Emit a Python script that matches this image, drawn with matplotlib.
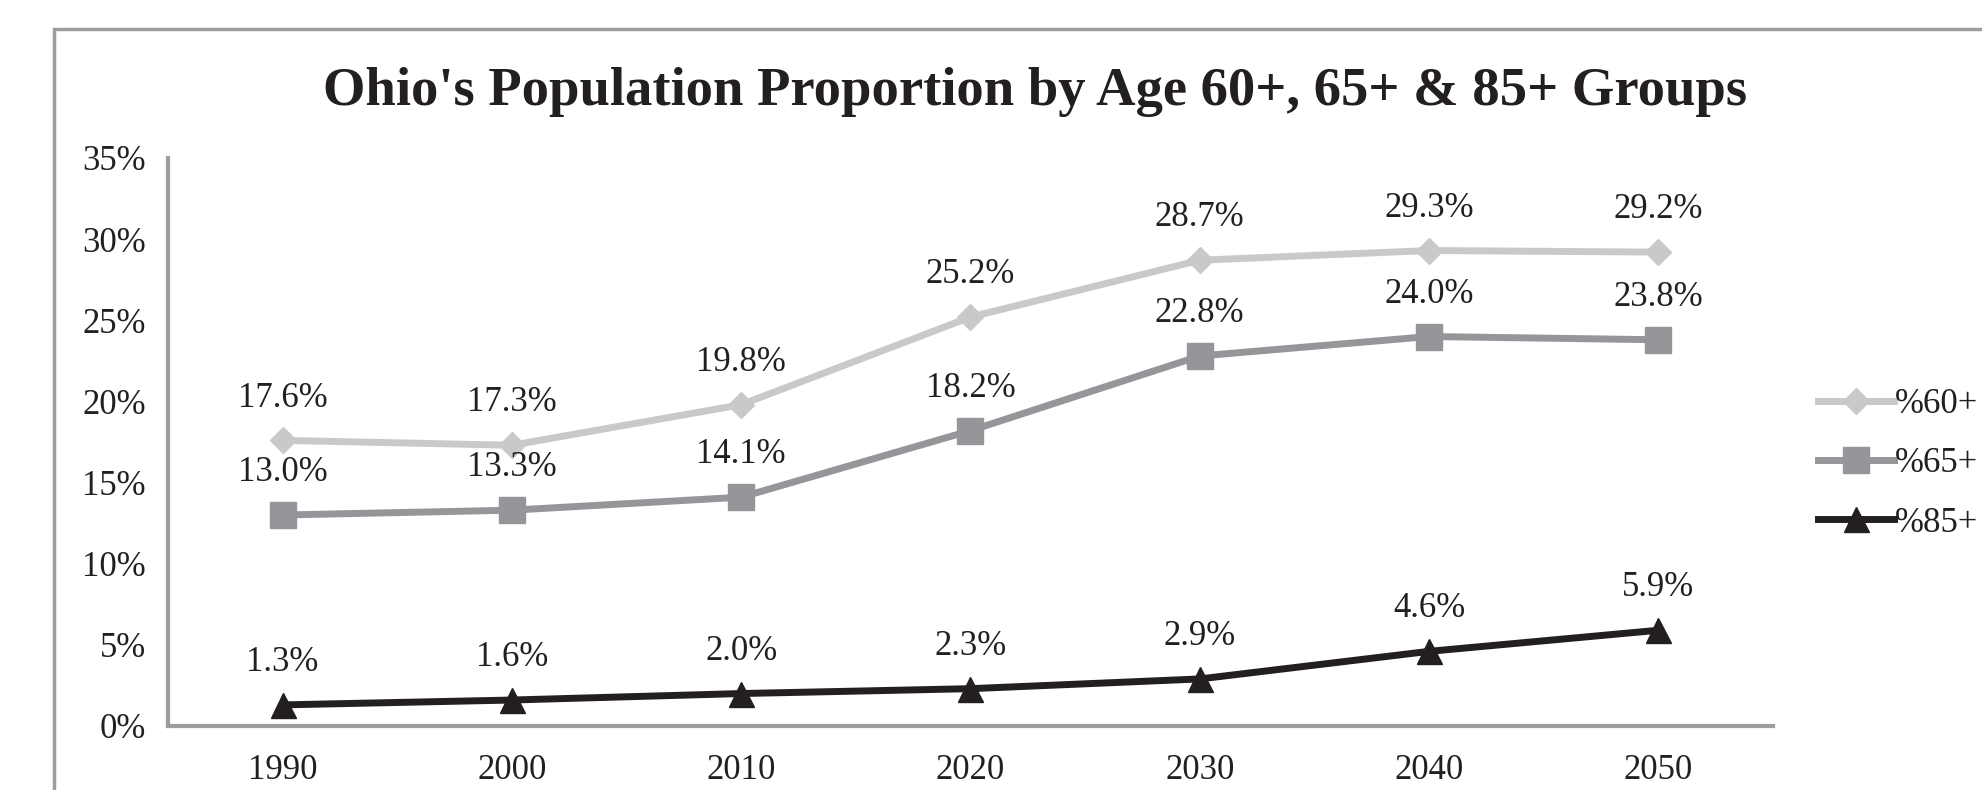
import numpy as np
import matplotlib.pyplot as plt
from matplotlib.patches import Rectangle

years = ['1990', '2000', '2010', '2020', '2030', '2040', '2050']
pct_60 = [17.6, 17.3, 19.8, 25.2, 28.7, 29.3, 29.2]
pct_65 = [13.0, 13.3, 14.1, 18.2, 22.8, 24.0, 23.8]
pct_85 = [1.3, 1.6, 2.0, 2.3, 2.9, 4.6, 5.9]
series_names = ['%60+', '%65+', '%85+']

plt.rcParams['font.family'] = ['Liberation Serif', 'DejaVu Serif']
txt = '#231f20'
spine_col = '#9d9d9f'
fs = 25

fig = plt.figure(figsize=(19.82, 7.90), dpi=100)
ax = fig.add_axes([168/1982, 1 - 726/790, (1773 - 168)/1982, (726 - 158)/790])

# outer chart frame (right and bottom edges lie outside the picture)
fig.patches.append(Rectangle((54/1982, -0.1), 1.2, 1 - 29/790 + 0.1, transform=fig.transFigure,
                             fill=False, edgecolor=spine_col, linewidth=2.5))

x = np.arange(len(years))
styles = [
    (pct_60, '#c8c9cb', 'D', 13),
    (pct_65, '#959699', 's', 19),
    (pct_85, '#231f20', '^', 18),
]
for (vals, col, mk, ms), name in zip(styles, series_names):
    ax.plot(x, vals, color=col, lw=5, marker=mk, markersize=ms, label=name, zorder=3)
    for xi, v in zip(x, vals):
        ax.annotate(f'{v:.1f}%', (xi, v), xytext=(0, 30.5), textcoords='offset points',
                    ha='center', va='center', fontsize=fs, color=txt)

ax.set_xlim(-0.5, len(years) - 0.5)
ax.set_ylim(0, 35)
ax.set_xticks(x)
ax.set_xticklabels(years)
ax.set_yticks(np.arange(0, 36, 5))
ax.set_yticklabels([f'{v}%' for v in range(0, 36, 5)])
ax.tick_params(axis='x', length=0, pad=20.5, labelsize=fs, labelcolor=txt)
ax.tick_params(axis='y', length=0, pad=16, labelsize=fs, labelcolor=txt)
for s in ['top', 'right']:
    ax.spines[s].set_visible(False)
for s in ['left', 'bottom']:
    ax.spines[s].set_color(spine_col)
    ax.spines[s].set_linewidth(3)

fig.text(1035/1982, 1 - 105/790, "Ohio's Population Proportion by Age 60+, 65+ & 85+ Groups",
         ha='center', va='baseline', fontsize=39.3, fontweight='bold', color=txt)

leg = ax.legend(loc='center left', bbox_to_anchor=(1818/1982, 1 - 464/790),
                bbox_transform=fig.transFigure, frameon=False, fontsize=fs,
                handlelength=2.2, handletextpad=0.0, labelspacing=0.75, borderpad=0,
                borderaxespad=0)
for t in leg.get_texts():
    t.set_color(txt)

fig.savefig('out.png', dpi=100)
